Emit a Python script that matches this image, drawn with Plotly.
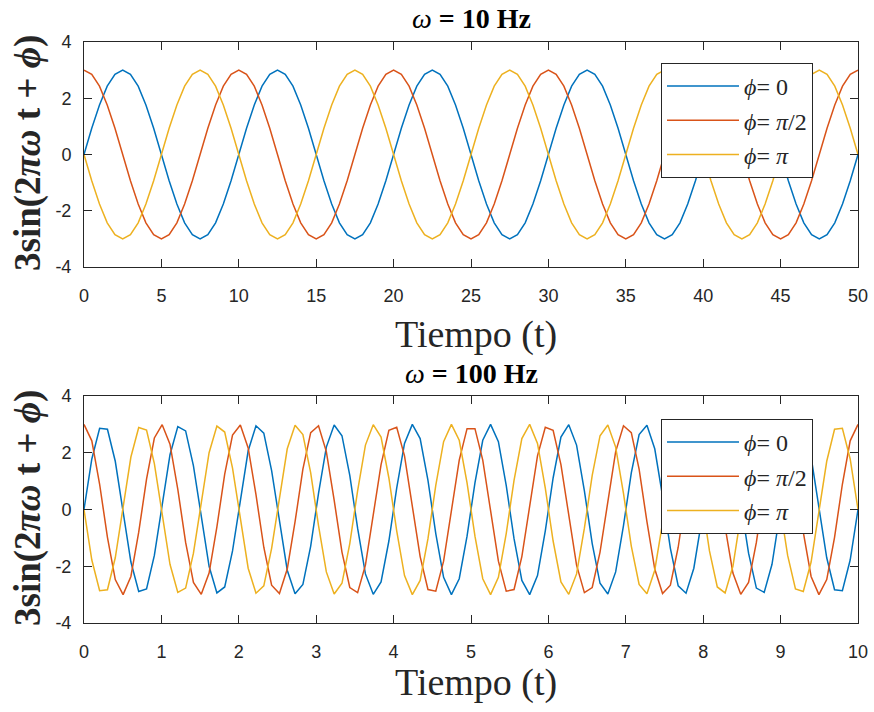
import plotly.graph_objects as go

# ---------------- data: top panel (omega = 10 Hz) ----------------
t_top = [0, 0.5, 1, 1.5, 2, 2.5, 3, 3.5, 4, 4.5, 5, 5.5, 6, 6.5, 7, 7.5, 8, 8.5, 9, 9.5,
         10, 10.5, 11, 11.5, 12, 12.5, 13, 13.5, 14, 14.5, 15, 15.5, 16, 16.5, 17, 17.5, 18, 18.5, 19, 19.5,
         20, 20.5, 21, 21.5, 22, 22.5, 23, 23.5, 24, 24.5, 25, 25.5, 26, 26.5, 27, 27.5, 28, 28.5, 29, 29.5,
         30, 30.5, 31, 31.5, 32, 32.5, 33, 33.5, 34, 34.5, 35, 35.5, 36, 36.5, 37, 37.5, 38, 38.5, 39, 39.5,
         40, 40.5, 41, 41.5, 42, 42.5, 43, 43.5, 44, 44.5, 45, 45.5, 46, 46.5, 47, 47.5, 48, 48.5, 49, 49.5,
         50]

top_phi0 = [0.00, 0.93, 1.76, 2.43, 2.85, 3.00, 2.85, 2.43, 1.76, 0.93, 0.00, -0.93, -1.76, -2.43, -2.85, -3.00, -2.85, -2.43, -1.76, -0.93,
            0.00, 0.93, 1.76, 2.43, 2.85, 3.00, 2.85, 2.43, 1.76, 0.93, 0.00, -0.93, -1.76, -2.43, -2.85, -3.00, -2.85, -2.43, -1.76, -0.93,
            0.00, 0.93, 1.76, 2.43, 2.85, 3.00, 2.85, 2.43, 1.76, 0.93, 0.00, -0.93, -1.76, -2.43, -2.85, -3.00, -2.85, -2.43, -1.76, -0.93,
            0.00, 0.93, 1.76, 2.43, 2.85, 3.00, 2.85, 2.43, 1.76, 0.93, 0.00, -0.93, -1.76, -2.43, -2.85, -3.00, -2.85, -2.43, -1.76, -0.93,
            0.00, 0.93, 1.76, 2.43, 2.85, 3.00, 2.85, 2.43, 1.76, 0.93, 0.00, -0.93, -1.76, -2.43, -2.85, -3.00, -2.85, -2.43, -1.76, -0.93,
            0.00]

top_phi_half = [3.00, 2.85, 2.43, 1.76, 0.93, 0.00, -0.93, -1.76, -2.43, -2.85, -3.00, -2.85, -2.43, -1.76, -0.93, 0.00, 0.93, 1.76, 2.43, 2.85,
                3.00, 2.85, 2.43, 1.76, 0.93, 0.00, -0.93, -1.76, -2.43, -2.85, -3.00, -2.85, -2.43, -1.76, -0.93, 0.00, 0.93, 1.76, 2.43, 2.85,
                3.00, 2.85, 2.43, 1.76, 0.93, 0.00, -0.93, -1.76, -2.43, -2.85, -3.00, -2.85, -2.43, -1.76, -0.93, 0.00, 0.93, 1.76, 2.43, 2.85,
                3.00, 2.85, 2.43, 1.76, 0.93, 0.00, -0.93, -1.76, -2.43, -2.85, -3.00, -2.85, -2.43, -1.76, -0.93, 0.00, 0.93, 1.76, 2.43, 2.85,
                3.00, 2.85, 2.43, 1.76, 0.93, 0.00, -0.93, -1.76, -2.43, -2.85, -3.00, -2.85, -2.43, -1.76, -0.93, 0.00, 0.93, 1.76, 2.43, 2.85,
                3.00]

top_phi_pi = [0.00, -0.93, -1.76, -2.43, -2.85, -3.00, -2.85, -2.43, -1.76, -0.93, 0.00, 0.93, 1.76, 2.43, 2.85, 3.00, 2.85, 2.43, 1.76, 0.93,
              0.00, -0.93, -1.76, -2.43, -2.85, -3.00, -2.85, -2.43, -1.76, -0.93, 0.00, 0.93, 1.76, 2.43, 2.85, 3.00, 2.85, 2.43, 1.76, 0.93,
              0.00, -0.93, -1.76, -2.43, -2.85, -3.00, -2.85, -2.43, -1.76, -0.93, 0.00, 0.93, 1.76, 2.43, 2.85, 3.00, 2.85, 2.43, 1.76, 0.93,
              0.00, -0.93, -1.76, -2.43, -2.85, -3.00, -2.85, -2.43, -1.76, -0.93, 0.00, 0.93, 1.76, 2.43, 2.85, 3.00, 2.85, 2.43, 1.76, 0.93,
              0.00, -0.93, -1.76, -2.43, -2.85, -3.00, -2.85, -2.43, -1.76, -0.93, 0.00, 0.93, 1.76, 2.43, 2.85, 3.00, 2.85, 2.43, 1.76, 0.93,
              0.00]

# ---------------- data: bottom panel (omega = 100 Hz) ----------------
t_bot = [0.000, 0.101, 0.202, 0.303, 0.404, 0.505, 0.606, 0.707, 0.808, 0.909,
         1.010, 1.111, 1.212, 1.313, 1.414, 1.515, 1.616, 1.717, 1.818, 1.919,
         2.020, 2.121, 2.222, 2.323, 2.424, 2.525, 2.626, 2.727, 2.828, 2.929,
         3.030, 3.131, 3.232, 3.333, 3.434, 3.535, 3.636, 3.737, 3.838, 3.939,
         4.040, 4.141, 4.242, 4.343, 4.444, 4.545, 4.646, 4.747, 4.848, 4.949,
         5.051, 5.152, 5.253, 5.354, 5.455, 5.556, 5.657, 5.758, 5.859, 5.960,
         6.061, 6.162, 6.263, 6.364, 6.465, 6.566, 6.667, 6.768, 6.869, 6.970,
         7.071, 7.172, 7.273, 7.374, 7.475, 7.576, 7.677, 7.778, 7.879, 7.980,
         8.081, 8.182, 8.283, 8.384, 8.485, 8.586, 8.687, 8.788, 8.889, 8.990,
         9.091, 9.192, 9.293, 9.394, 9.495, 9.596, 9.697, 9.798, 9.899, 10.000]

bot_phi0 = [0.00, 1.78, 2.86, 2.83, 1.70, -0.10, -1.85, -2.89, -2.80, -1.62,
            0.19, 1.93, 2.92, 2.77, 1.54, -0.29, -2.00, -2.94, -2.73, -1.46,
            0.38, 2.07, 2.95, 2.69, 1.37, -0.47, -2.14, -2.97, -2.64, -1.29,
            0.57, 2.20, 2.98, 2.60, 1.20, -0.66, -2.27, -2.99, -2.55, -1.11,
            0.75, 2.33, 3.00, 2.50, 1.03, -0.85, -2.39, -3.00, -2.44, -0.94,
            0.94, 2.44, 3.00, 2.39, 0.85, -1.03, -2.50, -3.00, -2.33, -0.75,
            1.11, 2.55, 2.99, 2.27, 0.66, -1.20, -2.60, -2.98, -2.20, -0.57,
            1.29, 2.64, 2.97, 2.14, 0.47, -1.37, -2.69, -2.95, -2.07, -0.38,
            1.46, 2.73, 2.94, 2.00, 0.29, -1.54, -2.77, -2.92, -1.93, -0.19,
            1.62, 2.80, 2.89, 1.85, 0.10, -1.70, -2.83, -2.86, -1.78, 0.00]

bot_phi_half = [3.00, 2.42, 0.89, -0.98, -2.47, -3.00, -2.36, -0.80, 1.07, 2.52,
                2.99, 2.30, 0.71, -1.16, -2.57, -2.99, -2.24, -0.61, 1.25, 2.62,
                2.98, 2.17, 0.52, -1.33, -2.67, -2.96, -2.10, -0.43, 1.42, 2.71,
                2.95, 2.04, 0.33, -1.50, -2.75, -2.93, -1.96, -0.24, 1.58, 2.79,
                2.90, 1.89, 0.14, -1.66, -2.82, -2.88, -1.82, -0.05, 1.74, 2.85,
                2.85, 1.74, -0.05, -1.82, -2.88, -2.82, -1.66, 0.14, 1.89, 2.90,
                2.79, 1.58, -0.24, -1.96, -2.93, -2.75, -1.50, 0.33, 2.04, 2.95,
                2.71, 1.42, -0.43, -2.10, -2.96, -2.67, -1.33, 0.52, 2.17, 2.98,
                2.62, 1.25, -0.61, -2.24, -2.99, -2.57, -1.16, 0.71, 2.30, 2.99,
                2.52, 1.07, -0.80, -2.36, -3.00, -2.47, -0.98, 0.89, 2.42, 3.00]

bot_phi_pi = [0.00, -1.78, -2.86, -2.83, -1.70, 0.10, 1.85, 2.89, 2.80, 1.62,
              -0.19, -1.93, -2.92, -2.77, -1.54, 0.29, 2.00, 2.94, 2.73, 1.46,
              -0.38, -2.07, -2.95, -2.69, -1.37, 0.47, 2.14, 2.97, 2.64, 1.29,
              -0.57, -2.20, -2.98, -2.60, -1.20, 0.66, 2.27, 2.99, 2.55, 1.11,
              -0.75, -2.33, -3.00, -2.50, -1.03, 0.85, 2.39, 3.00, 2.44, 0.94,
              -0.94, -2.44, -3.00, -2.39, -0.85, 1.03, 2.50, 3.00, 2.33, 0.75,
              -1.11, -2.55, -2.99, -2.27, -0.66, 1.20, 2.60, 2.98, 2.20, 0.57,
              -1.29, -2.64, -2.97, -2.14, -0.47, 1.37, 2.69, 2.95, 2.07, 0.38,
              -1.46, -2.73, -2.94, -2.00, -0.29, 1.54, 2.77, 2.92, 1.93, 0.19,
              -1.62, -2.80, -2.89, -1.85, -0.10, 1.70, 2.83, 2.86, 1.78, 0.00]

series_names = ["<i>ϕ</i>= 0", "<i>ϕ</i>= <i>π</i>/2", "<i>ϕ</i>= <i>π</i>"]
series_colors = ["#0072BD", "#D95319", "#EDB120"]

top_xticks = [0, 5, 10, 15, 20, 25, 30, 35, 40, 45, 50]
bot_xticks = [0, 1, 2, 3, 4, 5, 6, 7, 8, 9, 10]
y_ticks = [-4, -2, 0, 2, 4]
y_ticklabels = ["-4", "-2", "0", "2", "4"]

titles = ["<i>ω</i> <b>= 10 Hz</b>", "<i>ω</i> <b>= 100 Hz</b>"]
x_label = "Tiempo (t)"
y_label = "<b>3sin(2<i>πω</i> t + <i>ϕ</i>)</b>"

# ---------------- figure ----------------
W, H = 874, 712
fig = go.Figure()

top_series = [top_phi0, top_phi_half, top_phi_pi]
bot_series = [bot_phi0, bot_phi_half, bot_phi_pi]

for name, col, ys in zip(series_names, series_colors, top_series):
    fig.add_trace(go.Scatter(x=t_top, y=ys, mode="lines", name=name,
                             line=dict(color=col, width=1.5),
                             xaxis="x", yaxis="y", legend="legend"))
for name, col, ys in zip(series_names, series_colors, bot_series):
    fig.add_trace(go.Scatter(x=t_bot, y=ys, mode="lines", name=name,
                             line=dict(color=col, width=1.5),
                             xaxis="x2", yaxis="y2", legend="legend2"))

axis_common = dict(showline=True, linecolor="#262626", linewidth=1, automargin=False,
                   mirror="ticks", ticks="inside", ticklen=8, tickwidth=1,
                   tickcolor="#262626", showgrid=False, zeroline=False,
                   tickfont=dict(family="Liberation Sans, Arial, sans-serif", size=18, color="#262626"))

x0, x1 = 84 / W, 858 / W
top_dom = [1 - 267 / H, 1 - 42 / H]
bot_dom = [1 - 623 / H, 1 - 396 / H]

legend_common = dict(xanchor="left", yanchor="top",
                     bgcolor="white", bordercolor="#262626", borderwidth=1,
                     font=dict(family="Liberation Serif, serif", size=24, color="#262626"),
                     itemwidth=72, tracegroupgap=0)

fig.update_layout(
    width=W, height=H,
    margin=dict(l=0, r=0, t=0, b=0, autoexpand=False),
    paper_bgcolor="white", plot_bgcolor="white",
    xaxis=dict(domain=[x0, x1], range=[0, 50], tickvals=top_xticks, anchor="y",
               ticklabelstandoff=12, **axis_common),
    yaxis=dict(domain=top_dom, range=[-4, 4], tickvals=y_ticks, ticktext=y_ticklabels,
               anchor="x", ticklabelstandoff=8, **axis_common),
    xaxis2=dict(domain=[x0, x1], range=[0, 10], tickvals=bot_xticks, anchor="y2",
                ticklabelstandoff=12, **axis_common),
    yaxis2=dict(domain=bot_dom, range=[-4, 4], tickvals=y_ticks, ticktext=y_ticklabels,
                anchor="x2", ticklabelstandoff=8, **axis_common),
    legend=dict(x=661 / W, y=1 - 63 / H, **legend_common),
    legend2=dict(x=661 / W, y=1 - 419 / H, **legend_common),
    showlegend=True,
)

serif = "Liberation Serif, Times New Roman, serif"
ann = []
# subplot titles
ann.append(dict(text=titles[0], x=(x0 + x1) / 2, y=1 - 18 / H, xref="paper", yref="paper",
                showarrow=False, xanchor="center", yanchor="middle",
                font=dict(family=serif, size=28, color="black")))
ann.append(dict(text=titles[1], x=(x0 + x1) / 2, y=1 - 373 / H, xref="paper", yref="paper",
                showarrow=False, xanchor="center", yanchor="middle",
                font=dict(family=serif, size=28, color="black")))
# x labels
for yc in (334, 682):
    ann.append(dict(text=x_label, x=476 / W, y=1 - yc / H, xref="paper", yref="paper",
                    showarrow=False, xanchor="center", yanchor="middle",
                    font=dict(family=serif, size=38, color="#262626")))
# y labels
for yc in (153, 508):
    ann.append(dict(text=y_label, x=28 / W, y=1 - yc / H, xref="paper", yref="paper",
                    showarrow=False, xanchor="center", yanchor="middle", textangle=-90,
                    font=dict(family=serif, size=37, color="#262626")))
fig.update_layout(annotations=ann)

# remove the default page margin so the 874x712 figure fills the window exactly
fig.write_html("out.html", config={"displayModeBar": False},
               post_script="document.body.style.margin='0';")
